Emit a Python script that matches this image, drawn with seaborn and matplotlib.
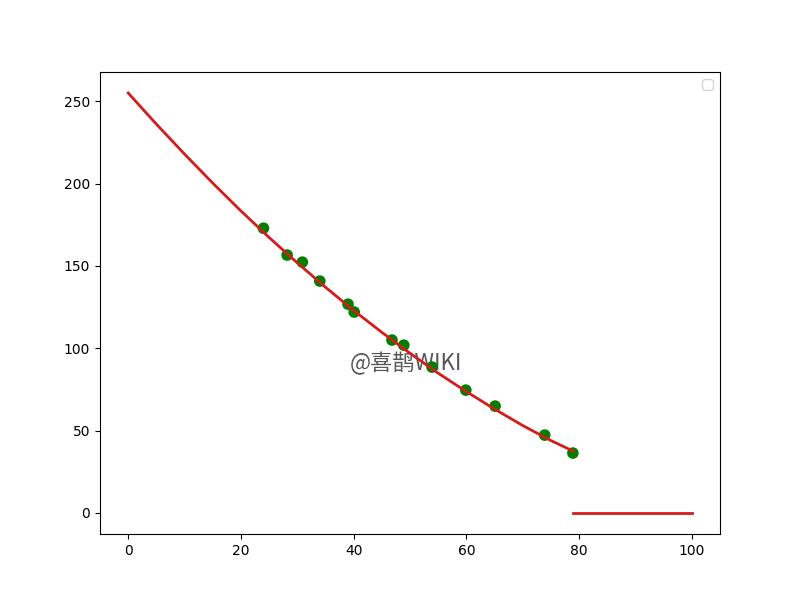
import matplotlib
matplotlib.use("Agg")
import matplotlib.pyplot as plt
import seaborn as sns
import pandas as pd

# measured points (green dots)
point_x = [24, 28.2, 30.9, 34.0, 39.0, 40.1, 46.8, 48.9, 53.9, 59.9, 65.1, 73.9, 78.9]
point_y = [172.9, 156.6, 152.3, 140.8, 126.8, 122.0, 105.0, 101.9, 88.6, 74.6, 64.9, 47.3, 36.4]

# fitted curve
curve_x = [0, 5, 10, 15, 20, 25, 30, 35, 40, 45, 50, 55, 60, 65, 70, 75, 79]
curve_y = [255, 236.1, 217.9, 200.3, 183.4, 167.3, 151.9, 137.1, 123.0, 109.7,
           97.0, 84.9, 73.7, 63.1, 53.1, 44.0, 37.5]

# flat tail at zero
tail_x = [79, 100]
tail_y = [0, 0]

fig, ax = plt.subplots(figsize=(8, 6), dpi=100)

points = pd.DataFrame({'x': point_x, 'y': point_y})
curve = pd.DataFrame({'x': curve_x, 'y': curve_y})
tail = pd.DataFrame({'x': tail_x, 'y': tail_y})

sns.scatterplot(data=points, x='x', y='y', color='green', s=70,
                edgecolor='none', ax=ax, zorder=2)
sns.lineplot(data=curve, x='x', y='y', color='#d41c1c', linewidth=2,
             ax=ax, zorder=3, sort=False)
sns.lineplot(data=tail, x='x', y='y', color='#d41c1c', linewidth=2,
             ax=ax, zorder=3, sort=False)

ax.set_xlabel('')
ax.set_ylabel('')
ax.set_xticks([0, 20, 40, 60, 80, 100])
ax.set_yticks([0, 50, 100, 150, 200, 250])

# empty legend box, as in the original
ax.legend(loc='upper right')

ax.text(0.493, 0.37, '@喜鹊WIKI', transform=ax.transAxes, ha='center',
        va='center', fontsize=16, color='#444444', alpha=0.9, zorder=1,
        family=['Noto Sans CJK SC', 'DejaVu Sans'])

fig.savefig('out.png', dpi=100)
